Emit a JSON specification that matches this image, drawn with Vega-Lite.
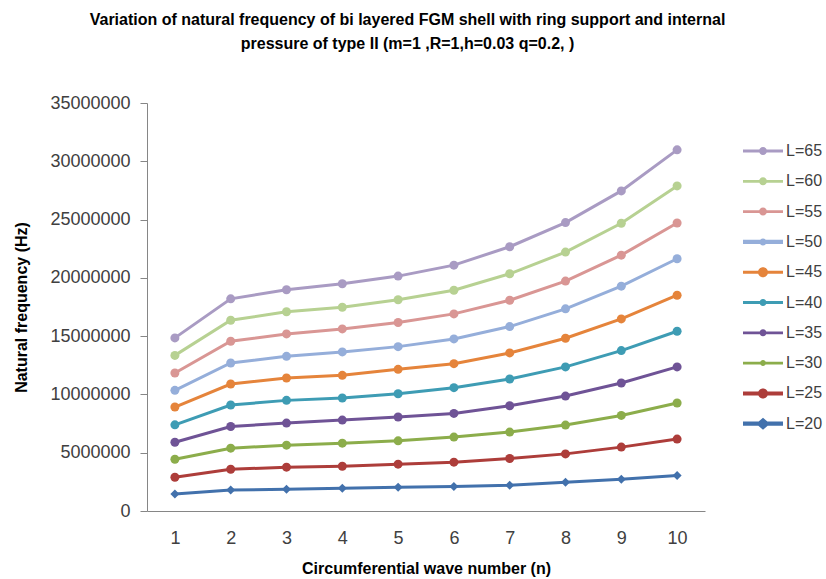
{
  "$schema": "https://vega.github.io/schema/vega-lite/v6.json",
  "width": 558,
  "height": 408,
  "autosize": {"type": "none"},
  "padding": {"left": 147, "top": 103, "right": 121, "bottom": 68},
  "background": "white",
  "title": {
    "text": ["Variation of natural frequency of bi layered FGM shell with ring support and internal", "pressure of type II  (m=1 ,R=1,h=0.03 q=0.2, )"],
    "font": "Liberation Sans",
    "fontSize": 16,
    "fontWeight": "bold",
    "color": "#000000",
    "anchor": "middle",
    "frame": "group",
    "dx": -18.5,
    "offset": 42,
    "lineHeight": 24
  },
  "config": {
    "view": {"stroke": null},
    "axis": {"labelFont": "Liberation Sans", "titleFont": "Liberation Sans", "labelColor": "#404040", "titleColor": "#000000", "grid": false, "domainColor": "#868686", "tickColor": "#868686"},
    "legend": {"labelFont": "Liberation Sans"}
  },
  "data": {"values": [
    {"n": 1, "L": "L=20", "f": 1460000}, {"n": 1, "L": "L=25", "f": 2900000}, {"n": 1, "L": "L=30", "f": 4440000}, {"n": 1, "L": "L=35", "f": 5900000}, {"n": 1, "L": "L=40", "f": 7390000}, {"n": 1, "L": "L=45", "f": 8920000}, {"n": 1, "L": "L=50", "f": 10350000}, {"n": 1, "L": "L=55", "f": 11840000}, {"n": 1, "L": "L=60", "f": 13350000}, {"n": 1, "L": "L=65", "f": 14850000},
    {"n": 2, "L": "L=20", "f": 1800000}, {"n": 2, "L": "L=25", "f": 3580000}, {"n": 2, "L": "L=30", "f": 5390000}, {"n": 2, "L": "L=35", "f": 7250000}, {"n": 2, "L": "L=40", "f": 9090000}, {"n": 2, "L": "L=45", "f": 10890000}, {"n": 2, "L": "L=50", "f": 12700000}, {"n": 2, "L": "L=55", "f": 14560000}, {"n": 2, "L": "L=60", "f": 16360000}, {"n": 2, "L": "L=65", "f": 18200000},
    {"n": 3, "L": "L=20", "f": 1870000}, {"n": 3, "L": "L=25", "f": 3760000}, {"n": 3, "L": "L=30", "f": 5650000}, {"n": 3, "L": "L=35", "f": 7540000}, {"n": 3, "L": "L=40", "f": 9490000}, {"n": 3, "L": "L=45", "f": 11410000}, {"n": 3, "L": "L=50", "f": 13270000}, {"n": 3, "L": "L=55", "f": 15190000}, {"n": 3, "L": "L=60", "f": 17090000}, {"n": 3, "L": "L=65", "f": 18980000},
    {"n": 4, "L": "L=20", "f": 1950000}, {"n": 4, "L": "L=25", "f": 3840000}, {"n": 4, "L": "L=30", "f": 5820000}, {"n": 4, "L": "L=35", "f": 7800000}, {"n": 4, "L": "L=40", "f": 9690000}, {"n": 4, "L": "L=45", "f": 11640000}, {"n": 4, "L": "L=50", "f": 13650000}, {"n": 4, "L": "L=55", "f": 15620000}, {"n": 4, "L": "L=60", "f": 17480000}, {"n": 4, "L": "L=65", "f": 19490000},
    {"n": 5, "L": "L=20", "f": 2040000}, {"n": 5, "L": "L=25", "f": 4020000}, {"n": 5, "L": "L=30", "f": 6020000}, {"n": 5, "L": "L=35", "f": 8060000}, {"n": 5, "L": "L=40", "f": 10060000}, {"n": 5, "L": "L=45", "f": 12150000}, {"n": 5, "L": "L=50", "f": 14100000}, {"n": 5, "L": "L=55", "f": 16170000}, {"n": 5, "L": "L=60", "f": 18120000}, {"n": 5, "L": "L=65", "f": 20150000},
    {"n": 6, "L": "L=20", "f": 2100000}, {"n": 6, "L": "L=25", "f": 4190000}, {"n": 6, "L": "L=30", "f": 6340000}, {"n": 6, "L": "L=35", "f": 8370000}, {"n": 6, "L": "L=40", "f": 10580000}, {"n": 6, "L": "L=45", "f": 12640000}, {"n": 6, "L": "L=50", "f": 14760000}, {"n": 6, "L": "L=55", "f": 16910000}, {"n": 6, "L": "L=60", "f": 18940000}, {"n": 6, "L": "L=65", "f": 21090000},
    {"n": 7, "L": "L=20", "f": 2210000}, {"n": 7, "L": "L=25", "f": 4500000}, {"n": 7, "L": "L=30", "f": 6770000}, {"n": 7, "L": "L=35", "f": 9030000}, {"n": 7, "L": "L=40", "f": 11320000}, {"n": 7, "L": "L=45", "f": 13560000}, {"n": 7, "L": "L=50", "f": 15820000}, {"n": 7, "L": "L=55", "f": 18080000}, {"n": 7, "L": "L=60", "f": 20350000}, {"n": 7, "L": "L=65", "f": 22670000},
    {"n": 8, "L": "L=20", "f": 2470000}, {"n": 8, "L": "L=25", "f": 4900000}, {"n": 8, "L": "L=30", "f": 7370000}, {"n": 8, "L": "L=35", "f": 9860000}, {"n": 8, "L": "L=40", "f": 12360000}, {"n": 8, "L": "L=45", "f": 14820000}, {"n": 8, "L": "L=50", "f": 17340000}, {"n": 8, "L": "L=55", "f": 19720000}, {"n": 8, "L": "L=60", "f": 22210000}, {"n": 8, "L": "L=65", "f": 24740000},
    {"n": 9, "L": "L=20", "f": 2730000}, {"n": 9, "L": "L=25", "f": 5480000}, {"n": 9, "L": "L=30", "f": 8200000}, {"n": 9, "L": "L=35", "f": 10980000}, {"n": 9, "L": "L=40", "f": 13760000}, {"n": 9, "L": "L=45", "f": 16480000}, {"n": 9, "L": "L=50", "f": 19290000}, {"n": 9, "L": "L=55", "f": 21950000}, {"n": 9, "L": "L=60", "f": 24680000}, {"n": 9, "L": "L=65", "f": 27460000},
    {"n": 10, "L": "L=20", "f": 3040000}, {"n": 10, "L": "L=25", "f": 6170000}, {"n": 10, "L": "L=30", "f": 9260000}, {"n": 10, "L": "L=35", "f": 12360000}, {"n": 10, "L": "L=40", "f": 15420000}, {"n": 10, "L": "L=45", "f": 18510000}, {"n": 10, "L": "L=50", "f": 21640000}, {"n": 10, "L": "L=55", "f": 24710000}, {"n": 10, "L": "L=60", "f": 27890000}, {"n": 10, "L": "L=65", "f": 30980000}
  ]},
  "encoding": {
    "x": {
      "field": "n", "type": "ordinal",
      "scale": {"type": "point", "padding": 0.5},
      "axis": {"title": "Circumferential wave number (n)", "labelAngle": 0, "ticks": false, "labelFontSize": 18, "labelPadding": 18, "titleFontSize": 16, "titleFontWeight": "bold", "titlePadding": 13}
    },
    "y": {
      "field": "f", "type": "quantitative",
      "scale": {"domain": [0, 35000000], "nice": false, "zero": true},
      "axis": {"title": "Natural frequency (Hz)", "values": [0, 5000000, 10000000, 15000000, 20000000, 25000000, 30000000, 35000000], "format": "d", "tickSize": 7, "labelFontSize": 18, "labelPadding": 10, "titleFontSize": 16, "titleFontWeight": "bold", "titlePadding": 20}
    }
  },
  "resolve": {"scale": {"shape": "independent", "size": "independent"}, "legend": {"color": "independent"}},
  "layer": [
    {
      "mark": {"type": "line"},
      "encoding": {
        "color": {
          "field": "L", "type": "nominal", "legend": null,
          "scale": {
            "domain": ["L=65", "L=60", "L=55", "L=50", "L=45", "L=40", "L=35", "L=30", "L=25", "L=20"],
            "range": ["#A99BC3", "#B7D192", "#D99694", "#95AEDA", "#E5843B", "#3E9CB4", "#6F5396", "#8CAD4B", "#AD3D3A", "#4271AC"]
          }
        },
        "strokeWidth": {
          "field": "L", "type": "nominal", "legend": null,
          "scale": {"domain": ["L=65", "L=60", "L=55", "L=50", "L=45", "L=40", "L=35", "L=30", "L=25", "L=20"], "range": [3, 3, 3, 4.5, 3, 3, 3, 3, 4, 4.5]}
        }
      }
    },
    {
      "mark": {"type": "point", "filled": true, "opacity": 1},
      "encoding": {
        "color": {"field": "L", "type": "nominal", "legend": null},
        "shape": {
          "field": "L", "type": "nominal", "legend": null,
          "scale": {"domain": ["L=65", "L=60", "L=55", "L=50", "L=45", "L=40", "L=35", "L=30", "L=25", "L=20"], "range": ["circle", "circle", "circle", "circle", "circle", "circle", "circle", "circle", "circle", "diamond"]}
        },
        "size": {
          "field": "L", "type": "nominal", "legend": null,
          "scale": {"domain": ["L=65", "L=60", "L=55", "L=50", "L=45", "L=40", "L=35", "L=30", "L=25", "L=20"], "range": [81, 81, 81, 50, 100, 50, 50, 50, 100, 256]}
        }
      }
    },
    {
      "transform": [{"filter": "datum.n > 100"}],
      "mark": {"type": "point", "filled": true, "opacity": 1, "size": 100},
      "encoding": {
        "color": {
          "field": "L", "type": "nominal",
          "legend": {
            "title": null,
            "orient": "none",
            "legendX": 593,
            "legendY": 40,
            "padding": 0,
            "symbolSize": 100,
            "symbolStrokeWidth": 0,
            "symbolOpacity": 1,
            "labelFontSize": 16,
            "labelColor": "#404040",
            "labelOffset": 30,
            "rowPadding": 14.3
          }
        },
        "shape": {
          "field": "L", "type": "nominal", "legend": null,
          "scale": {
            "domain": ["L=65", "L=60", "L=55", "L=50", "L=45", "L=40", "L=35", "L=30", "L=25", "L=20"],
            "range": [
              "M-1,-0.28H7V0.28H-1ZM2.2,0A0.8,0.8,0,1,1,3.8,0A0.8,0.8,0,1,1,2.2,0Z",
              "M-1,-0.28H7V0.28H-1ZM2.2,0A0.8,0.8,0,1,1,3.8,0A0.8,0.8,0,1,1,2.2,0Z",
              "M-1,-0.28H7V0.28H-1ZM2.2,0A0.8,0.8,0,1,1,3.8,0A0.8,0.8,0,1,1,2.2,0Z",
              "M-1,-0.42H7V0.42H-1ZM2.3,0A0.7,0.7,0,1,1,3.7,0A0.7,0.7,0,1,1,2.3,0Z",
              "M-1,-0.3H7V0.3H-1ZM2,0A1,1,0,1,1,4,0A1,1,0,1,1,2,0Z",
              "M-1,-0.28H7V0.28H-1ZM2.3,0A0.7,0.7,0,1,1,3.7,0A0.7,0.7,0,1,1,2.3,0Z",
              "M-1,-0.28H7V0.28H-1ZM2.3,0A0.7,0.7,0,1,1,3.7,0A0.7,0.7,0,1,1,2.3,0Z",
              "M-1,-0.28H7V0.28H-1ZM2.4,0A0.6,0.6,0,1,1,3.6,0A0.6,0.6,0,1,1,2.4,0Z",
              "M-1,-0.4H7V0.4H-1ZM2,0A1,1,0,1,1,4,0A1,1,0,1,1,2,0Z",
              "M-1,-0.42H7V0.42H-1ZM1.6,0L3,-1.2L4.4,0L3,1.2Z"
            ]
          }
        }
      }
    }
  ]
}
